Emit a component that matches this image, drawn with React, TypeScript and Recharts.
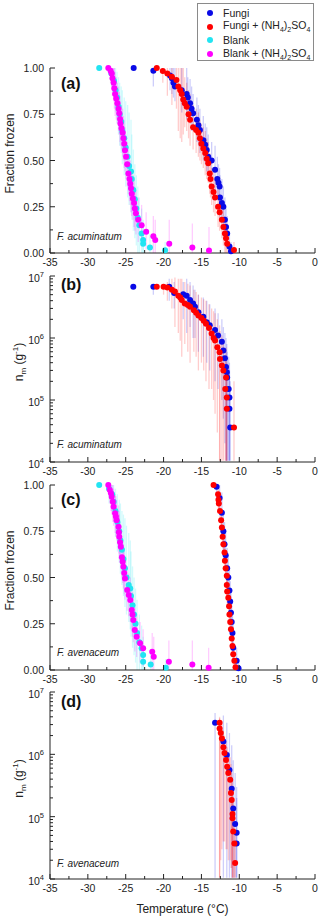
import React from 'react';
import { ScatterChart, Scatter, XAxis, YAxis, ErrorBar, Legend } from 'recharts';

const FONT = 'Arial, "Liberation Sans", Helvetica, sans-serif';

const BLUE = '#0a0ae6';
const RED = '#ff0000';
const CYAN = '#22e4f2';
const MAGENTA = '#ff00ff';

// each point: [temperature (°C), value, lower bound, upper bound]
type Pt = [number, number, number, number];

const tempTicks = [-35, -32.5, -30, -27.5, -25, -22.5, -20, -17.5, -15, -12.5, -10, -7.5, -5, -2.5, 0];
const fracTicks = [0, 0.125, 0.25, 0.375, 0.5, 0.625, 0.75, 0.875, 1];
const nmTicks = [
  1e4, 2e4, 3e4, 4e4, 5e4, 6e4, 7e4, 8e4, 9e4,
  1e5, 2e5, 3e5, 4e5, 5e5, 6e5, 7e5, 8e5, 9e5,
  1e6, 2e6, 3e6, 4e6, 5e6, 6e6, 7e6, 8e6, 9e6,
  1e7,
];

// (a) F. acuminatum, fraction frozen
const fungiA: Pt[] = [
  [-23.95, 1.0, 1.0, 1.0], [-21.35, 0.985, 0.9, 1.0], [-19.15, 0.96, 0.88, 1.0],
  [-18.9, 0.945, 0.86, 1.0], [-18.7, 0.92, 0.84, 1.0], [-18.5, 0.9, 0.82, 1.0],
  [-17.6, 0.88, 0.76, 1.0], [-16.95, 0.86, 0.72, 1.0], [-16.8, 0.84, 0.74, 0.95],
  [-16.5, 0.81, 0.7, 0.94], [-16.3, 0.78, 0.66, 0.9], [-16.1, 0.755, 0.66, 0.86],
  [-15.6, 0.72, 0.6, 0.84], [-15.4, 0.69, 0.58, 0.8], [-15.2, 0.665, 0.54, 0.78],
  [-14.75, 0.61, 0.5, 0.74], [-14.5, 0.585, 0.48, 0.7], [-14.3, 0.557, 0.44, 0.68],
  [-14.1, 0.52, 0.42, 0.64], [-13.65, 0.5, 0.4, 0.6], [-13.2, 0.45, 0.32, 0.58],
  [-12.9, 0.4, 0.3, 0.52], [-12.75, 0.38, 0.28, 0.48], [-12.6, 0.36, 0.24, 0.46],
  [-12.55, 0.3, 0.18, 0.42], [-12.3, 0.27, 0.16, 0.4], [-12.1, 0.25, 0.14, 0.36],
  [-11.9, 0.18, 0.08, 0.3], [-11.75, 0.14, 0.06, 0.24], [-11.6, 0.105, 0.02, 0.2],
  [-11.3, 0.035, 0.0, 0.1], [-11.1, 0.01, 0.0, 0.06],
];
const fungiSaltA: Pt[] = [
  [-20.9, 1.0, 1.0, 1.0], [-20.1, 0.984, 0.92, 1.0], [-19.5, 0.97, 0.85, 1.0],
  [-18.9, 0.953, 0.8, 1.0], [-18.3, 0.935, 0.78, 1.0], [-18.05, 0.9, 0.66, 1.0],
  [-17.8, 0.88, 0.62, 1.0], [-17.6, 0.86, 0.6, 1.0], [-17.4, 0.83, 0.64, 1.0],
  [-17.2, 0.81, 0.68, 0.95], [-16.95, 0.79, 0.66, 0.92], [-16.7, 0.75, 0.62, 0.88],
  [-16.5, 0.72, 0.58, 0.86], [-16.1, 0.68, 0.56, 0.8], [-15.7, 0.665, 0.54, 0.78],
  [-15.4, 0.65, 0.52, 0.76], [-15.2, 0.62, 0.5, 0.72], [-15.0, 0.59, 0.48, 0.7],
  [-14.75, 0.565, 0.46, 0.68], [-14.5, 0.54, 0.42, 0.66], [-14.3, 0.51, 0.4, 0.62],
  [-14.1, 0.485, 0.38, 0.6], [-13.9, 0.43, 0.32, 0.54], [-13.8, 0.4, 0.3, 0.5],
  [-13.65, 0.36, 0.26, 0.46], [-13.4, 0.33, 0.22, 0.44], [-13.2, 0.3, 0.2, 0.4],
  [-12.8, 0.25, 0.14, 0.36], [-12.6, 0.22, 0.12, 0.32], [-12.3, 0.18, 0.08, 0.28],
  [-12.1, 0.14, 0.04, 0.24], [-11.9, 0.105, 0.0, 0.2], [-11.75, 0.08, 0.0, 0.16],
  [-11.6, 0.05, 0.0, 0.14], [-10.7, 0.016, 0.0, 0.06],
];
const blankA: Pt[] = [
  [-28.5, 1.0, 1.0, 1.0], [-26.9, 0.97, 0.9, 1.0], [-26.55, 0.93, 0.84, 1.0],
  [-26.35, 0.88, 0.76, 1.0], [-26.15, 0.84, 0.7, 0.98], [-25.95, 0.79, 0.64, 0.95],
  [-25.8, 0.75, 0.58, 0.92], [-25.6, 0.71, 0.54, 0.9], [-25.45, 0.66, 0.48, 0.88],
  [-25.2, 0.62, 0.42, 0.84], [-25.0, 0.57, 0.36, 0.82], [-24.75, 0.52, 0.3, 0.8],
  [-24.55, 0.47, 0.26, 0.76], [-24.3, 0.44, 0.22, 0.72], [-24.2, 0.4, 0.18, 0.64],
  [-24.0, 0.34, 0.12, 0.56], [-23.8, 0.29, 0.08, 0.48], [-23.6, 0.24, 0.04, 0.42],
  [-23.4, 0.19, 0.0, 0.36], [-23.2, 0.15, 0.0, 0.3], [-22.9, 0.105, 0.0, 0.24],
  [-22.7, 0.07, 0.0, 0.18], [-22.7, 0.05, 0.0, 0.14], [-21.8, 0.03, 0.0, 0.1],
  [-19.8, 0.015, 0.0, 0.06],
];
const blankSaltA: Pt[] = [
  [-27.3, 1.0, 1.0, 1.0], [-27.0, 0.985, 0.92, 1.0], [-26.85, 0.97, 0.88, 1.0],
  [-26.75, 0.945, 0.85, 1.0], [-26.6, 0.92, 0.82, 1.0], [-26.5, 0.89, 0.78, 1.0],
  [-26.4, 0.86, 0.74, 0.98], [-26.25, 0.835, 0.72, 0.95], [-26.1, 0.81, 0.7, 0.92],
  [-25.95, 0.78, 0.66, 0.9], [-25.85, 0.755, 0.64, 0.87], [-25.75, 0.725, 0.6, 0.85],
  [-25.7, 0.7, 0.58, 0.82], [-25.55, 0.675, 0.56, 0.8], [-25.4, 0.65, 0.52, 0.78],
  [-25.3, 0.62, 0.5, 0.74], [-25.2, 0.59, 0.46, 0.72], [-25.1, 0.555, 0.44, 0.68],
  [-24.95, 0.52, 0.4, 0.64], [-24.8, 0.48, 0.36, 0.6], [-24.65, 0.43, 0.32, 0.56],
  [-24.5, 0.4, 0.28, 0.52], [-24.4, 0.375, 0.26, 0.5], [-24.3, 0.35, 0.22, 0.48],
  [-24.2, 0.32, 0.2, 0.44], [-24.05, 0.295, 0.18, 0.42], [-23.9, 0.27, 0.14, 0.4],
  [-23.8, 0.24, 0.12, 0.36], [-23.65, 0.215, 0.1, 0.34], [-23.35, 0.18, 0.06, 0.3],
  [-22.9, 0.15, 0.04, 0.26], [-22.3, 0.115, 0.02, 0.22], [-21.35, 0.09, 0.0, 0.2],
  [-21.1, 0.07, 0.0, 0.18], [-19.25, 0.05, 0.0, 0.18], [-16.2, 0.03, 0.0, 0.16],
  [-14.0, 0.013, 0.0, 0.14],
];

// (b) F. acuminatum, n_m (g^-1)
const fungiB: Pt[] = [
  [-24.0, 6.7e6, 6.7e6, 6.7e6], [-21.35, 6.7e6, 5.0e6, 6.7e6], [-19.25, 6.7e6, 4.0e6, 9e6],
  [-18.6, 5.3e6, 3.0e6, 8e6], [-17.4, 5.1e6, 2.0e6, 8e6], [-16.95, 4.8e6, 1.2e6, 9e6],
  [-16.5, 4.1e6, 1.5e6, 8e6], [-16.1, 3.6e6, 1.0e6, 7e6], [-15.85, 3.2e6, 1.0e6, 6e6],
  [-15.4, 2.6e6, 6e5, 5e6], [-14.75, 2.2e6, 5e5, 4.5e6], [-14.3, 1.8e6, 4e5, 4e6],
  [-13.9, 1.6e6, 3e5, 3.5e6], [-13.2, 1.35e6, 2e5, 3e6], [-12.8, 1.1e6, 1.5e5, 2.5e6],
  [-12.3, 8.7e5, 1e5, 2e6], [-12.1, 6.3e5, 5e4, 1.5e6], [-11.9, 4.7e5, 2e4, 1.2e6],
  [-11.75, 3.4e5, 1.05e4, 1e6], [-11.65, 2.8e5, 1.05e4, 8e5], [-11.6, 2.3e5, 1.05e4, 6e5],
  [-11.4, 1.5e5, 1.05e4, 5e5], [-11.3, 1.1e5, 1.05e4, 4e5], [-11.3, 7.2e4, 1.05e4, 3e5],
  [-11.2, 3.6e4, 1.05e4, 2e5],
];
const fungiSaltB: Pt[] = [
  [-20.9, 6.7e6, 6.7e6, 6.7e6], [-20.0, 6.7e6, 5e6, 6.9e6], [-19.5, 6.5e6, 4.0e6, 8e6],
  [-18.9, 6.0e6, 3.0e6, 9e6], [-18.5, 5.6e6, 1.5e6, 9.5e6], [-18.05, 4.8e6, 1.2e6, 9e6],
  [-17.8, 4.5e6, 9e5, 9e6], [-17.6, 4.1e6, 5e5, 9e6], [-17.2, 3.6e6, 8e5, 8e6],
  [-16.8, 3.4e6, 6e5, 7.5e6], [-16.5, 3.2e6, 4e5, 7e6], [-16.0, 2.8e6, 6e5, 6e6],
  [-15.7, 2.55e6, 5e5, 5.5e6], [-15.4, 2.3e6, 3e5, 5e6], [-15.0, 2.1e6, 4e5, 4.5e6],
  [-14.7, 1.9e6, 3e5, 4.2e6], [-14.4, 1.7e6, 2e5, 4e6], [-14.0, 1.45e6, 1.5e5, 3.5e6],
  [-13.65, 1.18e6, 1.5e5, 3e6], [-13.4, 1.0e6, 1e5, 2.7e6], [-13.2, 9.1e5, 6e4, 2.5e6],
  [-12.9, 7.1e5, 3e4, 2e6], [-12.6, 5.9e5, 1.05e4, 1.6e6], [-12.55, 4.6e5, 1.05e4, 1.3e6],
  [-12.3, 3.6e5, 1.05e4, 1.1e6], [-12.1, 3.0e5, 1.05e4, 9e5], [-11.75, 2.3e5, 1.05e4, 7e5],
  [-11.85, 1.5e5, 1.05e4, 5e5], [-11.65, 1.1e5, 1.05e4, 4e5], [-11.65, 7.2e4, 1.05e4, 3e5],
  [-10.7, 3.6e4, 1.05e4, 2e5],
];

// (c) F. avenaceum, fraction frozen
const fungiC: Pt[] = [
  [-13.0, 0.99, 0.92, 1.0], [-12.6, 0.93, 0.84, 1.0], [-12.3, 0.85, 0.76, 0.96],
  [-12.1, 0.75, 0.64, 0.86], [-11.95, 0.68, 0.58, 0.8], [-11.8, 0.62, 0.52, 0.74],
  [-11.6, 0.55, 0.44, 0.66], [-11.45, 0.5, 0.4, 0.62], [-11.3, 0.43, 0.32, 0.54],
  [-11.2, 0.37, 0.26, 0.48], [-11.1, 0.31, 0.2, 0.42], [-11.0, 0.26, 0.16, 0.38],
  [-10.9, 0.2, 0.1, 0.32], [-10.8, 0.12, 0.04, 0.24], [-10.35, 0.05, 0.0, 0.12],
  [-10.1, 0.01, 0.0, 0.06],
];
const fungiSaltC: Pt[] = [
  [-13.4, 1.0, 1.0, 1.0], [-12.8, 0.95, 0.9, 1.0], [-12.75, 0.92, 0.87, 0.97],
  [-12.7, 0.9, 0.85, 0.95], [-12.55, 0.86, 0.8, 0.92], [-12.4, 0.81, 0.75, 0.87],
  [-12.3, 0.77, 0.71, 0.83], [-12.2, 0.72, 0.66, 0.78], [-12.1, 0.68, 0.62, 0.74],
  [-11.95, 0.635, 0.57, 0.7], [-11.9, 0.59, 0.53, 0.65], [-11.8, 0.55, 0.49, 0.61],
  [-11.65, 0.51, 0.45, 0.57], [-11.65, 0.46, 0.4, 0.52], [-11.6, 0.425, 0.36, 0.49],
  [-11.45, 0.39, 0.33, 0.45], [-11.35, 0.345, 0.28, 0.41], [-11.3, 0.3, 0.24, 0.36],
  [-11.2, 0.26, 0.2, 0.32], [-11.1, 0.22, 0.16, 0.28], [-11.0, 0.17, 0.11, 0.23],
  [-10.9, 0.13, 0.07, 0.19], [-10.8, 0.085, 0.03, 0.14], [-10.65, 0.05, 0.0, 0.1],
  [-10.5, 0.015, 0.0, 0.06],
];
const blankC: Pt[] = [
  [-28.5, 1.0, 1.0, 1.0], [-27.2, 0.98, 0.9, 1.0], [-26.8, 0.95, 0.86, 1.0],
  [-26.6, 0.91, 0.8, 1.0], [-26.35, 0.86, 0.72, 0.98], [-26.1, 0.8, 0.64, 0.95],
  [-25.85, 0.75, 0.58, 0.92], [-25.7, 0.7, 0.52, 0.9], [-25.5, 0.65, 0.46, 0.86],
  [-25.3, 0.6, 0.4, 0.84], [-25.1, 0.55, 0.34, 0.82], [-24.9, 0.5, 0.3, 0.78],
  [-24.6, 0.46, 0.26, 0.74], [-24.4, 0.44, 0.22, 0.7], [-24.3, 0.4, 0.18, 0.64],
  [-24.1, 0.35, 0.12, 0.56], [-23.9, 0.3, 0.08, 0.5], [-23.7, 0.25, 0.04, 0.44],
  [-23.5, 0.2, 0.0, 0.38], [-23.2, 0.15, 0.0, 0.3], [-22.9, 0.117, 0.0, 0.24],
  [-22.7, 0.081, 0.0, 0.18], [-22.7, 0.045, 0.0, 0.12], [-21.7, 0.03, 0.0, 0.1],
  [-19.7, 0.012, 0.0, 0.06],
];
const blankSaltC: Pt[] = [
  [-27.3, 1.0, 1.0, 1.0], [-27.1, 0.973, 0.9, 1.0], [-26.95, 0.955, 0.86, 1.0],
  [-26.85, 0.937, 0.84, 1.0], [-26.7, 0.91, 0.8, 1.0], [-26.6, 0.883, 0.78, 0.98],
  [-26.4, 0.847, 0.74, 0.95], [-26.3, 0.83, 0.72, 0.94], [-26.2, 0.81, 0.7, 0.92],
  [-25.95, 0.775, 0.66, 0.89], [-25.9, 0.745, 0.63, 0.86], [-25.85, 0.72, 0.6, 0.84],
  [-25.75, 0.69, 0.58, 0.8], [-25.65, 0.666, 0.55, 0.78], [-25.5, 0.61, 0.5, 0.72],
  [-25.4, 0.585, 0.47, 0.7], [-25.3, 0.558, 0.44, 0.68], [-25.2, 0.525, 0.41, 0.64],
  [-25.1, 0.495, 0.38, 0.61], [-24.8, 0.432, 0.32, 0.55], [-24.6, 0.405, 0.29, 0.52],
  [-24.4, 0.378, 0.26, 0.5], [-24.2, 0.324, 0.21, 0.44], [-24.1, 0.3, 0.18, 0.42],
  [-24.0, 0.27, 0.15, 0.39], [-23.8, 0.216, 0.1, 0.34], [-23.55, 0.18, 0.07, 0.3],
  [-23.1, 0.144, 0.04, 0.26], [-22.7, 0.117, 0.02, 0.22], [-21.5, 0.099, 0.0, 0.2],
  [-21.3, 0.072, 0.0, 0.18], [-19.3, 0.045, 0.0, 0.16], [-16.2, 0.03, 0.0, 0.16],
  [-14.05, 0.012, 0.0, 0.12],
];

// (d) F. avenaceum, n_m (g^-1)
const fungiD: Pt[] = [
  [-13.2, 3.2e6, 1.05e4, 4.6e6], [-12.1, 1.6e6, 1.05e4, 4.2e6], [-11.65, 9.8e5, 1.05e4, 3.2e6],
  [-11.3, 5.6e5, 1.05e4, 2.2e6], [-11.0, 2.8e5, 1.05e4, 1.4e6], [-10.8, 1.35e5, 1.05e4, 8e5],
  [-10.55, 7.6e4, 1.05e4, 5e5], [-10.35, 5.5e4, 1.05e4, 3e5], [-10.35, 3.7e4, 1.05e4, 2e5],
];
const fungiSaltD: Pt[] = [
  [-12.6, 3.2e6, 1.05e4, 4.0e6], [-12.6, 2.6e6, 1.05e4, 3.8e6], [-12.45, 2.2e6, 2e4, 3.4e6],
  [-12.3, 1.8e6, 3e4, 3.0e6], [-12.1, 1.3e6, 4e4, 2.4e6], [-11.95, 1.05e6, 4e4, 2.0e6],
  [-11.75, 8.1e5, 3e4, 1.6e6], [-11.6, 6.3e5, 3e4, 1.3e6], [-11.45, 5.0e5, 2e4, 1.1e6],
  [-11.2, 3.9e5, 2e4, 9e5], [-11.1, 2.4e5, 1.5e4, 7e5], [-11.0, 1.85e5, 1.5e4, 5e5],
  [-10.9, 1.1e5, 1.05e4, 4e5], [-10.9, 9.4e4, 1.05e4, 3e5], [-10.8, 5.8e4, 1.05e4, 2e5],
  [-10.65, 3.7e4, 1.05e4, 1.5e5], [-10.55, 1.8e4, 1.05e4, 6e4],
];

const rows = (pts: Pt[]) => pts.map(([t, v, lo, hi]) => ({ t, v, err: [v - lo, hi - v] }));

const fade = (hex: string, a: number) => {
  const n = parseInt(hex.slice(1), 16);
  return `rgba(${(n >> 16) & 255},${(n >> 8) & 255},${n & 255},${a})`;
};

const XTick = (props: any) => {
  const { x, y, payload } = props;
  const v = payload.value;
  const major = v % 5 === 0;
  return (
    <g>
      <line x1={x} x2={x} y1={y} y2={y - (major ? 5 : 3)} stroke="#222" />
      {major && (
        <text x={x} y={y + 13} textAnchor="middle" fontSize={10.5} fontFamily={FONT} fill="#222">
          {v}
        </text>
      )}
    </g>
  );
};

const FracTick = (props: any) => {
  const { x, y, payload } = props;
  const v = payload.value;
  const major = Math.abs(v * 4 - Math.round(v * 4)) < 1e-6;
  return (
    <g>
      <line x1={x} x2={x + (major ? 5 : 3)} y1={y} y2={y} stroke="#222" />
      {major && (
        <text x={x - 6} y={y + 4} textAnchor="end" fontSize={10.5} fontFamily={FONT} fill="#222">
          {v.toFixed(2)}
        </text>
      )}
    </g>
  );
};

const LogTick = (props: any) => {
  const { x, y, payload } = props;
  const e = Math.log10(payload.value);
  const major = Math.abs(e - Math.round(e)) < 1e-6;
  return (
    <g>
      <line x1={x} x2={x + (major ? 5 : 3)} y1={y} y2={y} stroke="#222" />
      {major && (
        <text x={x - 6} y={y + 6} textAnchor="end" fontSize={10.5} fontFamily={FONT} fill="#222">
          <tspan>10</tspan>
          <tspan dy={-5} fontSize={7.5}>{Math.round(e)}</tspan>
        </text>
      )}
    </g>
  );
};

const YTitle = ({ viewBox, log }: any) => {
  const cy = viewBox.y + viewBox.height / 2 - 7;
  const cx = log ? 23 : 14;
  return (
    <text
      x={cx}
      y={cy}
      transform={`rotate(-90, ${cx}, ${cy})`}
      textAnchor="middle"
      fontSize={12}
      fontFamily={FONT}
      fill="#222"
    >
      {log ? (
        <>
          <tspan>n</tspan>
          <tspan fontSize={8} dy={3}>m</tspan>
          <tspan dy={-3}> (g</tspan>
          <tspan fontSize={8} dy={-5}>-1</tspan>
          <tspan dy={5}>)</tspan>
        </>
      ) : (
        'Fraction frozen'
      )}
    </text>
  );
};

const XTitle = ({ viewBox }: any) => (
  <text
    x={viewBox.x + viewBox.width / 2}
    y={viewBox.y + 34}
    textAnchor="middle"
    fontSize={12}
    fontFamily={FONT}
    fill="#222"
  >
    Temperature (°C)
  </text>
);

const legendItems = [
  { name: 'Fungi', color: BLUE, salt: false },
  { name: 'Fungi', color: RED, salt: true },
  { name: 'Blank', color: CYAN, salt: false },
  { name: 'Blank', color: MAGENTA, salt: true },
];

const LegendBox = () => (
  <div
    style={{
      border: '1px solid #8a8a8a',
      background: '#fff',
      boxSizing: 'border-box',
      width: 117,
      height: 58,
      padding: '2px 0 0 9px',
      fontFamily: FONT,
      fontSize: 10.5,
      color: '#222',
    }}
  >
    {legendItems.map((it, i) => (
      <div key={i} style={{ height: 13.7, display: 'flex', alignItems: 'center' }}>
        <span
          style={{ width: 6, height: 6, borderRadius: 3, background: it.color, display: 'inline-block', marginRight: 10 }}
        />
        <span>
          {it.name}
          {it.salt && (
            <>
              {' + (NH'}
              <sub style={{ fontSize: 7 }}>4</sub>)<sub style={{ fontSize: 7 }}>2</sub>SO<sub style={{ fontSize: 7 }}>4</sub>
            </>
          )}
        </span>
      </div>
    ))}
  </div>
);

type Series = { pts: Pt[]; color: string; name: string };

const dot = (color: string) => (p: any) => <circle cx={p.cx} cy={p.cy} r={3} fill={color} />;
const noDot = () => <g />;

const Panel = ({
  top, height, margin, log, series, legend, xTitle,
}: {
  top: number; height: number; margin: any; log: boolean; series: Series[]; legend?: boolean; xTitle?: boolean;
}) => (
  <div style={{ position: 'absolute', left: 0, top }}>
    <ScatterChart width={320} height={height} margin={margin}>
      <XAxis
        type="number"
        dataKey="t"
        domain={[-35, 0]}
        ticks={tempTicks}
        interval={0}
        tickSize={0}
        tickMargin={0}
        tick={<XTick />}
        height={12}
        axisLine={{ stroke: '#222' }}
        label={xTitle ? <XTitle /> : undefined}
      />
      {log ? (
        <YAxis
          type="number"
          dataKey="v"
          scale="log"
          domain={[1e4, 1e7]}
          ticks={nmTicks}
          interval={0}
          tickSize={0}
          tickMargin={0}
          tick={<LogTick />}
          width={50}
          axisLine={{ stroke: '#222' }}
          label={<YTitle log />}
        />
      ) : (
        <YAxis
          type="number"
          dataKey="v"
          domain={[0, 1]}
          ticks={fracTicks}
          interval={0}
          tickSize={0}
          tickMargin={0}
          tick={<FracTick />}
          width={50}
          axisLine={{ stroke: '#222' }}
          label={<YTitle />}
        />
      )}
      {series.map((s) => (
        <Scatter key={'e' + s.name} data={rows(s.pts)} shape={noDot} isAnimationActive={false} legendType="none">
          <ErrorBar dataKey="err" direction="y" width={0} stroke={fade(s.color, 0.2)} strokeWidth={1.3} />
        </Scatter>
      ))}
      {series.map((s) => (
        <Scatter key={'p' + s.name} name={s.name} data={rows(s.pts)} shape={dot(s.color)} isAnimationActive={false} />
      ))}
      {legend && (
        <Legend
          layout="horizontal"
          verticalAlign="middle"
          align="center"
          wrapperStyle={{ top: 3, left: 197, width: 117, height: 58 }}
          content={() => <LegendBox />}
        />
      )}
    </ScatterChart>
  </div>
);

const Tag = ({ top, text }: { top: number; text: string }) => (
  <div
    style={{
      position: 'absolute', left: 61, top, fontFamily: FONT, fontWeight: 700, fontSize: 16, lineHeight: '16px', color: '#111',
    }}
  >
    {text}
  </div>
);

const Species = ({ top, text }: { top: number; text: string }) => (
  <div
    style={{
      position: 'absolute', left: 57, top, fontFamily: FONT, fontStyle: 'italic', fontSize: 10, lineHeight: '12px', color: '#222',
    }}
  >
    {text}
  </div>
);

export default function App() {
  return (
    <div style={{ position: 'absolute', left: 0, top: 0, width: 320, height: 920, background: '#fff', overflow: 'hidden' }}>
      <Panel
        top={0}
        height={275}
        margin={{ top: 68, right: 5, bottom: 10, left: 0 }}
        log={false}
        legend
        series={[
          { pts: fungiA, color: BLUE, name: 'Fungi' },
          { pts: fungiSaltA, color: RED, name: 'Fungi + (NH4)2SO4' },
          { pts: blankA, color: CYAN, name: 'Blank' },
          { pts: blankSaltA, color: MAGENTA, name: 'Blank + (NH4)2SO4' },
        ]}
      />
      <Panel
        top={270}
        height={210}
        margin={{ top: 6, right: 5, bottom: 6, left: 0 }}
        log
        series={[
          { pts: fungiB, color: BLUE, name: 'Fungi' },
          { pts: fungiSaltB, color: RED, name: 'Fungi + (NH4)2SO4' },
        ]}
      />
      <Panel
        top={478}
        height={210}
        margin={{ top: 7, right: 5, bottom: 6, left: 0 }}
        log={false}
        series={[
          { pts: fungiC, color: BLUE, name: 'Fungi' },
          { pts: fungiSaltC, color: RED, name: 'Fungi + (NH4)2SO4' },
          { pts: blankC, color: CYAN, name: 'Blank' },
          { pts: blankSaltC, color: MAGENTA, name: 'Blank + (NH4)2SO4' },
        ]}
      />
      <Panel
        top={686}
        height={234}
        margin={{ top: 6, right: 5, bottom: 29, left: 0 }}
        log
        xTitle
        series={[
          { pts: fungiD, color: BLUE, name: 'Fungi' },
          { pts: fungiSaltD, color: RED, name: 'Fungi + (NH4)2SO4' },
        ]}
      />
      <Tag top={76} text="(a)" />
      <Tag top={277} text="(b)" />
      <Tag top={492} text="(c)" />
      <Tag top={694} text="(d)" />
      <Species top={231} text="F. acuminatum" />
      <Species top={439} text="F. acuminatum" />
      <Species top={647} text="F. avenaceum" />
      <Species top={858} text="F. avenaceum" />
    </div>
  );
}
